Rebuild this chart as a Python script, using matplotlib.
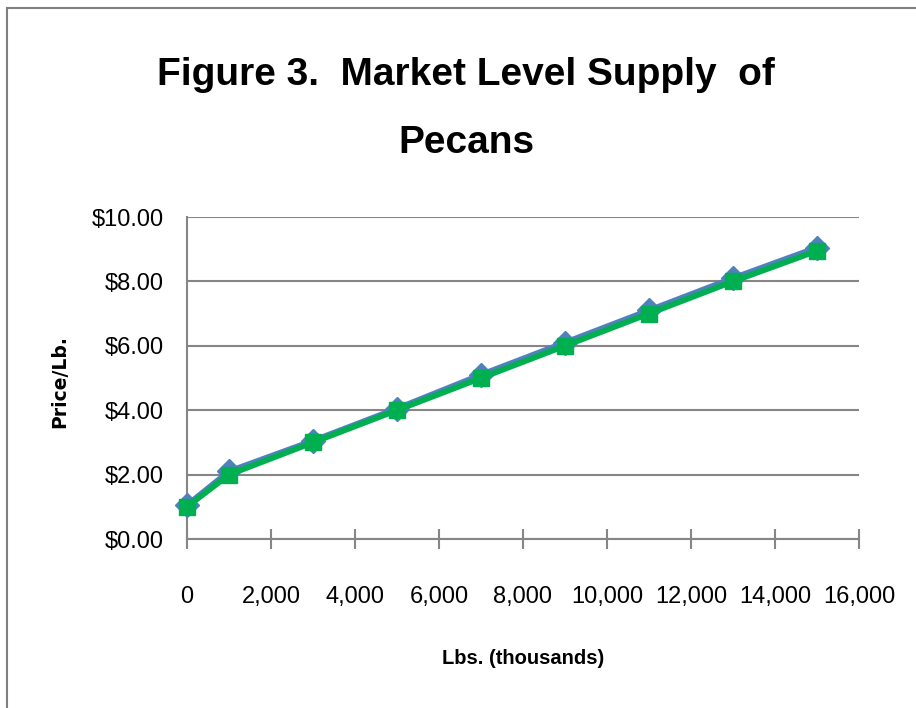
import matplotlib
matplotlib.use("Agg")
import matplotlib.pyplot as plt
from matplotlib.ticker import FuncFormatter, MultipleLocator
from matplotlib.patches import Rectangle

quantity = [0, 1000, 3000, 5000, 7000, 9000, 11000, 13000, 15000]
price_a = [1.05, 2.10, 3.05, 4.05, 5.10, 6.10, 7.10, 8.10, 9.05]
price_b = [1.00, 2.00, 3.00, 4.00, 5.00, 6.00, 7.00, 8.00, 8.95]

sans = ['Liberation Sans', 'DejaVu Sans']

fig = plt.figure(figsize=(9.16, 7.08), dpi=100)
fig.patches.append(Rectangle((7/916, -0.1), 1.2, 1 - 8/708 + 0.1, transform=fig.transFigure,
                             fill=False, edgecolor='#808080', linewidth=1.5))
ax = fig.add_axes([187/916, 1 - 539/708, 672/916, 322/708])

ax.plot(quantity, price_a, color='#4F81BD', linewidth=4.2, marker='D', markersize=12.5,
        zorder=3, clip_on=False)
ax.plot(quantity, price_b, color='#00B050', linewidth=4.2, marker='s', markersize=12,
        zorder=4, clip_on=False)

ax.set_xlim(0, 16000)
ax.set_ylim(0, 10)
ax.xaxis.set_major_locator(MultipleLocator(2000))
ax.yaxis.set_major_locator(MultipleLocator(2))
ax.xaxis.set_major_formatter(FuncFormatter(lambda v, p: f"{int(v):,}"))
ax.yaxis.set_major_formatter(FuncFormatter(lambda v, p: f"${v:.2f}"))
ax.grid(axis='y', color='#868686', linewidth=1.5)
ax.set_axisbelow(True)
for s in ['top', 'right']:
    ax.spines[s].set_visible(False)
for s in ['left', 'bottom']:
    ax.spines[s].set_color('#868686')
    ax.spines[s].set_linewidth(1.5)
ax.tick_params(axis='x', direction='inout', length=14, width=1.5, color='#868686', pad=27)
ax.tick_params(axis='y', length=0, pad=17)
for lab in ax.get_xticklabels() + ax.get_yticklabels():
    lab.set_family(sans)
    lab.set_fontsize(17)

fig.text(466/916, 1 - 75/708, "Figure 3.  Market Level Supply  of", ha='center', va='center',
         family=sans, fontsize=28, fontweight='bold')
fig.text(466/916, 1 - 143/708, "Pecans", ha='center', va='center',
         family=sans, fontsize=28, fontweight='bold')
fig.text(60/916, 1 - 382/708, "Price/Lb.", ha='center', va='center', rotation=90,
         family='DejaVu Sans', fontsize=13.5, fontweight='bold')
fig.text(523/916, 1 - 658/708, "Lbs. (thousands)", ha='center', va='center',
         family=sans, fontsize=14.5, fontweight='bold')

fig.savefig("out.png", dpi=100)
